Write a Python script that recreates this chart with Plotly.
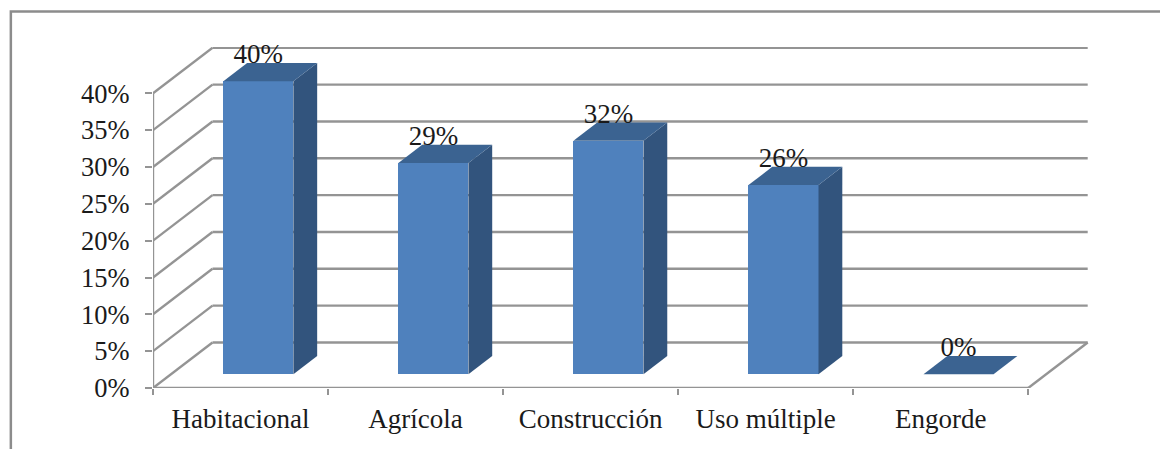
import plotly.graph_objects as go

categories = ["Habitacional", "Agrícola", "Construcción", "Uso múltiple", "Engorde"]
values = [39.8, 28.7, 31.7, 25.7, 0]
value_labels = ["40%", "29%", "32%", "26%", "0%"]
y_ticks = [0, 5, 10, 15, 20, 25, 30, 35, 40]
y_tick_labels = ["0%", "5%", "10%", "15%", "20%", "25%", "30%", "35%", "40%"]

W, H = 1160, 449
L, R, T, B = 152.7, 1090.0, 47.0, 387.7
PX_X = 175.1
PX_Y = 7.36
DEPTH_X = 59.5 / PX_X
DEPTH_Y = 45.5 / PX_Y
GAP = 0.30
BAR_D = 0.40
BAR_W = 0.40
GRID = "#949494"
FRONT, TOP, SIDE = "#4f81bd", "#3b6391", "#32547d"
FONT = "Liberation Serif"
n = len(categories)

shapes = []


def seg(x0, y0, x1, y1):
    shapes.append(dict(type="line", xref="x", yref="y", x0=x0, y0=y0, x1=x1, y1=y1,
                       layer="below", line=dict(color=GRID, width=2.4)))


for v in y_ticks:
    seg(0, v, DEPTH_X, v + DEPTH_Y)
    seg(DEPTH_X, v + DEPTH_Y, n + DEPTH_X, v + DEPTH_Y)
seg(n, 0, n + DEPTH_X, DEPTH_Y)
seg(0, 0, n, 0)
seg(0, 0, 0, y_ticks[-1])

# outer frame of the pasted picture (top and left edges only)
px = lambda p: (p - L) / (R - L)
py = lambda p: (B - p) / (B - T)
shapes.append(dict(type="path", xref="paper", yref="paper", layer="below",
                   path=f"M {px(10.5)} {py(H + 2)} L {px(10.5)} {py(11.5)} L {px(W + 2)} {py(11.5)}",
                   line=dict(color="#8c8c8c", width=2.5)))

fig = go.Figure()

xf = [i + 0.5 + GAP * DEPTH_X for i in range(n)]
yb = GAP * DEPTH_Y
fig.add_trace(go.Bar(x=xf, y=values, base=yb, width=BAR_W, marker=dict(color=FRONT, line_width=0),
                     hoverinfo="skip", showlegend=False))

dx, dy = BAR_D * DEPTH_X, BAR_D * DEPTH_Y
for xc, v in zip(xf, values):
    x0, x1 = xc - BAR_W / 2, xc + BAR_W / 2
    top = yb + v
    if v > 0:
        fig.add_trace(go.Scatter(x=[x1, x1 + dx, x1 + dx, x1, x1], y=[yb, yb + dy, top + dy, top, yb],
                                 mode="lines", fill="toself", fillcolor=SIDE, line_width=0,
                                 hoverinfo="skip", showlegend=False))
    fig.add_trace(go.Scatter(x=[x0, x1, x1 + dx, x0 + dx, x0], y=[top, top, top + dy, top + dy, top],
                             mode="lines", fill="toself", fillcolor=TOP, line_width=0,
                             hoverinfo="skip", showlegend=False))

fig.add_trace(go.Scatter(x=xf, y=[yb + v + dy - 0.95 for v in values], mode="text", text=value_labels,
                         textposition="top center", textfont=dict(family=FONT, size=27, color="#1a1a1a"),
                         cliponaxis=False, hoverinfo="skip", showlegend=False))

fig.update_layout(
    width=W, height=H, autosize=False, bargap=0,
    margin=dict(l=L, r=W - R, t=T, b=H - B, pad=0),
    paper_bgcolor="white", plot_bgcolor="white",
    shapes=shapes,
    xaxis=dict(range=[0, (R - L) / PX_X], tickmode="array", tickvals=[i + 0.5 for i in range(n)],
               ticktext=categories, ticks="", showgrid=False, zeroline=False, showline=False,
               ticklabelstandoff=12, tickfont=dict(family=FONT, size=27, color="#1a1a1a"),
               minor=dict(tickmode="array", tickvals=list(range(n + 1)), ticks="outside", ticklen=6,
                          tickwidth=2, tickcolor=GRID, showgrid=False)),
    yaxis=dict(range=[0, (B - T) / PX_Y], tickmode="array", tickvals=y_ticks, ticktext=y_tick_labels,
               ticks="outside", ticklen=7, tickwidth=2, tickcolor=GRID, showgrid=False, zeroline=False,
               showline=False, ticklabelstandoff=10, tickfont=dict(family=FONT, size=26.5, color="#1a1a1a")),
)

fig.write_html("out.html", config={"displayModeBar": False},
               post_script="document.body.style.margin='0';document.documentElement.style.overflow='hidden';document.body.style.overflow='hidden';")
